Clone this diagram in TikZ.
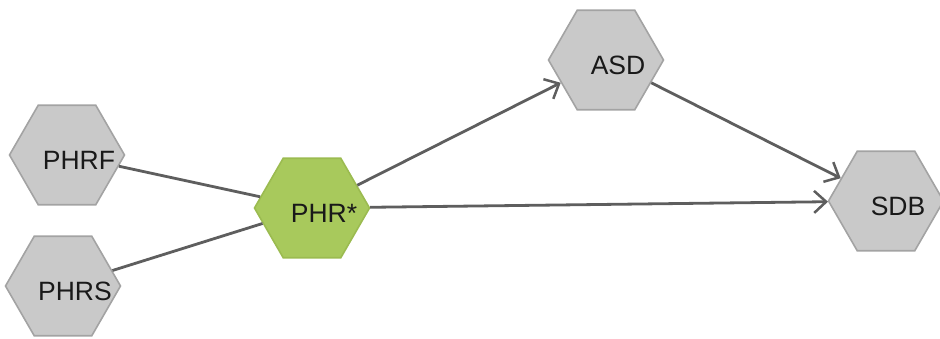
\documentclass[tikz,border=0pt]{standalone}
\usepackage{fontspec}
\setmainfont{Liberation Sans}
\usetikzlibrary{shapes.geometric,arrows.meta}
\definecolor{hexgray}{HTML}{C9C9C9}
\definecolor{hexgrayborder}{HTML}{A3A3A3}
\definecolor{hexgreen}{HTML}{A8C95C}
\definecolor{hexgreenborder}{HTML}{9BBB50}
\definecolor{edgegray}{HTML}{5E5E5E}
\begin{document}
\begin{tikzpicture}[x=1pt,y=-1pt,
  hexnode/.style={regular polygon, regular polygon sides=6, minimum size=115pt,
    inner sep=0pt, fill=hexgray, draw=hexgrayborder, line width=1.6pt},
  greenhex/.style={hexnode, fill=hexgreen, draw=hexgreenborder},
  hexlabel/.style={label={[xshift=12pt, yshift=-5pt, font=\fontsize{26.5}{31}\selectfont, text=black!90]center:#1}},
  link/.style={draw=edgegray, line width=2.8pt},
  arrowlink/.style={link, -{Straight Barb[length=12pt, width=22pt, line width=2.5pt]}}
]
\useasboundingbox (0,0) rectangle (940,339);
\node[hexnode, hexlabel=PHRF] (phrf) at (67,155) {};
\node[hexnode, hexlabel=PHRS] (phrs) at (63,286) {};
\node[greenhex, hexlabel={PHR*}] (phr) at (312,208) {};
\node[hexnode, hexlabel=ASD] (asd) at (606,60) {};
\node[hexnode, hexlabel=SDB] (sdb) at (886,201) {};
\draw[link] (phrf) -- (phr);
\draw[link] (phrs) -- (phr);
\draw[arrowlink] (phr) -- (asd);
\draw[arrowlink] (phr) -- (sdb);
\draw[arrowlink] (asd) -- (sdb);
\end{tikzpicture}
\end{document}
